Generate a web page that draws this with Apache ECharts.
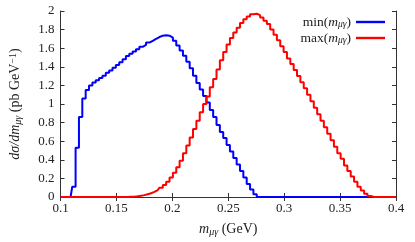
<!DOCTYPE html>
<html><head><meta charset="utf-8">
<script src="https://cdn.jsdelivr.net/npm/echarts@6/dist/echarts.min.js"></script>
<style>html,body{margin:0;padding:0;background:#fff}#c{width:415px;height:242px}</style>
</head><body><div id="c"></div>
<script>
// histogram bins: centres at binStart + j*binWidth
const binStart = 0.1, binWidth = 0.003;
const xTicks = [0.1, 0.15, 0.2, 0.25, 0.3, 0.35, 0.4];
const yTicks = [0, 0.2, 0.4, 0.6, 0.8, 1, 1.2, 1.4, 1.6, 1.8, 2];
const seriesNames = ['min', 'max'];
const minVals = [0,0,0,0,
 0.11,0.53,0.86,1.06,1.15,1.20,1.23,1.255,1.28,1.305,1.335,
 1.36,1.39,1.42,1.45,1.48,1.515,1.54,1.565,1.59,1.615,1.635,1.66,1.68,1.70,1.72,1.735,1.74,
 1.735,1.715,1.68,1.63,1.575,1.52,1.455,1.385,1.305,1.225,1.155,1.085,1.015,0.935,0.86,0.775,0.70,0.635,0.56,0.49,0.42,0.35,0.28,0.21,0.14,0.08,0.03,
 0,0,0,0,0,0,0,0,0,0,0,0,0,0,0,0,0,0,0,0,0,0,0,0,0,0,0,0,0,0,0,0,0,0,0,0,0,0,0,0,0,0];
const maxVals = [0,0,0,0,0,0,0,0,0,0,0,0,0,0,0,0,0,0,0,0,0,
 0.002,0.004,0.008,0.013,0.02,0.03,0.04,0.055,0.075,0.10,0.13,0.165,0.21,0.26,0.32,0.39,0.47,0.555,0.64,0.73,0.82,0.91,1.00,1.08,1.18,1.27,1.37,1.47,1.56,1.64,1.71,1.77,1.82,1.87,1.91,1.94,1.965,1.97,
 1.955,1.93,1.895,1.86,1.80,1.745,1.685,1.62,1.56,1.49,1.43,1.365,1.30,1.235,1.17,1.10,1.03,0.96,0.89,0.82,0.75,0.68,0.61,0.54,0.47,0.41,0.34,0.28,0.22,0.165,0.11,0.07,0.035,0.01,
 0,0,0,0,0,0,0,0];

const toPairs = vals => vals.map((v, j) => [binStart + j * binWidth, v]);
const FONT = '"Liberation Serif", "DejaVu Serif", serif';
const frame = '#333';
const FS = 13;
const mkRich = (fs, ss, lh) => ({
  n: {fontFamily: FONT, fontSize: fs, color: '#222', lineHeight: lh},
  i: {fontFamily: FONT, fontSize: fs, fontStyle: 'italic', color: '#222', lineHeight: lh},
  s: {fontFamily: FONT, fontSize: ss, fontStyle: 'italic', color: '#222', verticalAlign: 'bottom', padding: [4, 0, 0, 0], lineHeight: lh},
  p: {fontFamily: FONT, fontSize: ss, color: '#222', padding: [0, 0, 5, 0], lineHeight: lh}
});
const chart = echarts.init(document.getElementById('c'), null, {renderer: 'canvas'});
chart.setOption({
  animation: false,
  backgroundColor: '#fff',
  grid: {left: 54, right: 19, top: 11, bottom: 37},
  legend: {
    orient: 'vertical', right: 30, top: 15, padding: 0, align: 'right', itemWidth: 29, itemHeight: 2.4, itemGap: 2,
    icon: 'rect',
    data: seriesNames,
    formatter: n => '{n|' + n + '(}{i|m}{s|μγ}{n|)}',
    textStyle: {fontFamily: FONT, fontSize: FS, color: '#222', lineHeight: 14, rich: mkRich(13.5, 9.5, 14)}
  },
  xAxis: [{
    type: 'value', min: 0.1, max: 0.4, interval: 0.05,
    name: '{i|m}{s|μγ}{n| (GeV)}', nameLocation: 'middle', nameGap: 24,
    nameTextStyle: {rich: mkRich(14, 10, 16)},
    axisLine: {show: true, lineStyle: {color: frame, width: 1}},
    axisTick: {show: true, inside: true, length: 4, lineStyle: {color: frame}},
    axisLabel: {fontFamily: FONT, fontSize: FS, color: '#222', margin: 5,
      formatter: v => String(Math.round(v * 100) / 100)},
    splitLine: {show: false}
  }, {
    type: 'value', position: 'top', min: 0.1, max: 0.4, interval: 0.05,
    axisLine: {show: true, lineStyle: {color: frame, width: 1}},
    axisTick: {show: true, inside: true, length: 4, lineStyle: {color: frame}},
    axisLabel: {show: false}, splitLine: {show: false}
  }],
  yAxis: [{
    type: 'value', min: 0, max: 2, interval: 0.2,
    name: '{i|dσ/dm}{s|μγ}{n| (pb GeV}{p|−1}{n|)}', nameLocation: 'middle', nameGap: 37, nameRotate: 90,
    nameTextStyle: {rich: mkRich(14, 10, 16)},
    axisLine: {show: true, lineStyle: {color: frame, width: 1}},
    axisTick: {show: true, inside: true, length: 4, lineStyle: {color: frame}},
    axisLabel: {fontFamily: FONT, fontSize: FS, color: '#222', margin: 6,
      formatter: v => String(Math.round(v * 10) / 10)},
    splitLine: {show: false}
  }, {
    type: 'value', position: 'right', min: 0, max: 2, interval: 0.2,
    axisLine: {show: true, lineStyle: {color: frame, width: 1}},
    axisTick: {show: true, inside: true, length: 4, lineStyle: {color: frame}},
    axisLabel: {show: false}, splitLine: {show: false}
  }],
  series: [
    {name: 'min', type: 'line', step: 'middle', symbol: 'none', data: toPairs(minVals),
     lineStyle: {color: '#0000ff', width: 2}, itemStyle: {color: '#0000ff'}},
    {name: 'max', type: 'line', step: 'middle', symbol: 'none', data: toPairs(maxVals),
     lineStyle: {color: '#ff0000', width: 2}, itemStyle: {color: '#ff0000'}}
  ]
});
</script>
</body></html>
